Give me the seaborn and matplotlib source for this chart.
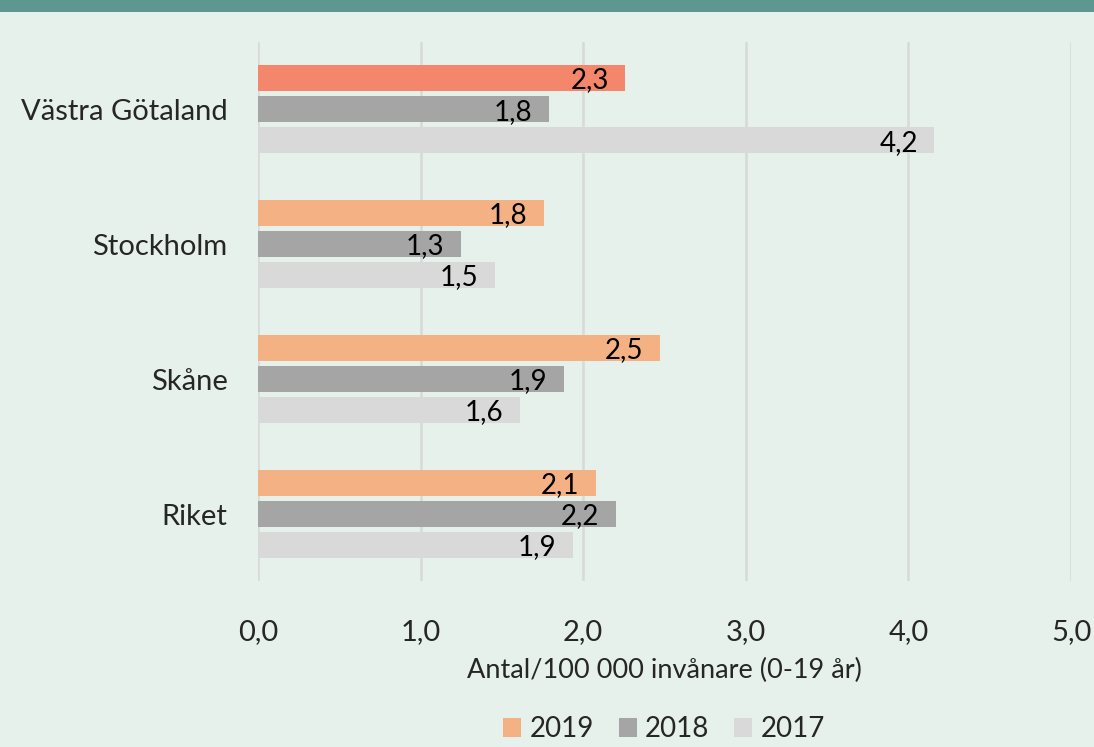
import pandas as pd
import matplotlib.pyplot as plt
import seaborn as sns
from matplotlib.patches import Rectangle, Patch

# Data
regions = ["Västra Götaland", "Stockholm", "Skåne", "Riket"]
years = ["2019", "2018", "2017"]
v2019 = [2.26, 1.76, 2.47, 2.08]
v2018 = [1.79, 1.25, 1.88, 2.20]
v2017 = [4.16, 1.46, 1.61, 1.94]
labels2019 = ["2,3", "1,8", "2,5", "2,1"]
labels2018 = ["1,8", "1,3", "1,9", "2,2"]
labels2017 = ["4,2", "1,5", "1,6", "1,9"]
x_ticks = [0, 1, 2, 3, 4, 5]
x_ticklabels = ["0,0", "1,0", "2,0", "3,0", "4,0", "5,0"]
x_title = "Antal/100 000 invånare (0-19 år)"

BG = "#E7F1EB"
colors = {"2019": "#F4B183", "2018": "#A5A5A5", "2017": "#D9D9D9"}
HIGHLIGHT = "#F4876B"

df = pd.DataFrame({
    "region": regions * 3,
    "year": ["2019"] * 4 + ["2018"] * 4 + ["2017"] * 4,
    "value": v2019 + v2018 + v2017,
})
bar_labels = {"2019": labels2019, "2018": labels2018, "2017": labels2017}

sns.set_style("white")
plt.rcParams["font.family"] = ["Lato", "DejaVu Sans"]

fig = plt.figure(figsize=(10.94, 7.47), dpi=100, facecolor=BG)
ax = fig.add_axes([0.2358, 0.2216, 0.979 - 0.2358, 0.9438 - 0.2216])
ax.set_facecolor(BG)

sns.barplot(data=df, y="region", x="value", hue="year", hue_order=years,
            order=regions, palette=colors, orient="h", width=0.69, gap=0.16,
            saturation=1, legend=False, linewidth=0, ax=ax)

# markerad stapel: Västra Götaland 2019
ax.containers[0][0].set_facecolor(HIGHLIGHT)

for cont, yr in zip(ax.containers, years):
    for bar, lab in zip(cont, bar_labels[yr]):
        ax.annotate(lab, (bar.get_width(), bar.get_y() + bar.get_height() / 2),
                    xytext=(-12, -7.3), textcoords="offset points",
                    ha="right", va="baseline", fontsize=20, color="black")

ax.set_xlim(0, 5)
ax.set_xticks(x_ticks)
ax.set_xticklabels(x_ticklabels, fontsize=21)
ax.xaxis.grid(True, color="#D8DAD8", linewidth=1.8)
ax.set_axisbelow(True)
ax.tick_params(axis="x", length=0, pad=27)
ax.tick_params(axis="y", length=0, pad=22, labelsize=21)
ax.set_ylabel("")
ax.set_xlabel(x_title, fontsize=19.5, labelpad=9)
for s in ax.spines.values():
    s.set_visible(False)

# teal band at top (cut-off header)
fig.patches.append(Rectangle((0, 1 - 12 / 747), 1, 12 / 747, transform=fig.transFigure,
                             facecolor="#5E9690", edgecolor="none", zorder=0))

handles = [Patch(facecolor=colors[y], edgecolor="none") for y in years]
fig.legend(handles, years, loc="center", bbox_to_anchor=(0.607, 0.024), ncol=3,
           frameon=False, fontsize=20, handlelength=0.65, handleheight=0.65,
           handletextpad=0.3, columnspacing=0.9)

fig.savefig("out.png", dpi=100, facecolor=BG)
